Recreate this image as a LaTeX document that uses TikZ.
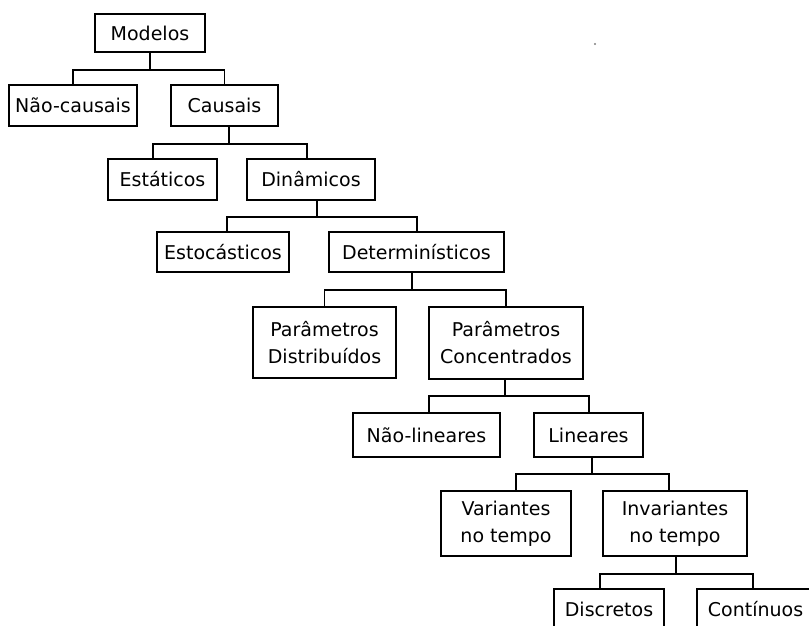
\documentclass[tikz,border=0pt]{standalone}
\usepackage{fontspec}
\setmainfont{DejaVu Sans}
\begin{document}
\begin{tikzpicture}[x=1pt,y=-1pt,
  box/.style={draw=black, line width=1.5pt, inner sep=0pt, align=center,
    font=\fontsize{19}{27}\selectfont},
  link/.style={draw=black, line width=1.5pt}]
\clip (0,0) rectangle (809,625);
\fill[white] (0,0) rectangle (809,625);
\node[box, minimum width=110, minimum height=38] (mod) at (150,33) {Modelos};
\node[box, minimum width=128, minimum height=41] (nc) at (73,105.5) {Não-causais};
\node[box, minimum width=107, minimum height=41] (cau) at (224.5,105.5) {Causais};
\node[box, minimum width=109, minimum height=41] (est) at (162.5,179.5) {Estáticos};
\node[box, minimum width=128, minimum height=41] (din) at (311,179.5) {Dinâmicos};
\node[box, minimum width=132, minimum height=40] (sto) at (223,252) {Estocásticos};
\node[box, minimum width=175, minimum height=40] (det) at (416.5,252) {Determinísticos};
\node[box, minimum width=143, minimum height=71] (pd) at (324.5,342.5) {Parâmetros\\Distribuídos};
\node[box, minimum width=154, minimum height=72] (pc) at (506,343) {Parâmetros\\Concentrados};
\node[box, minimum width=147, minimum height=44] (nl) at (426.5,435) {Não-lineares};
\node[box, minimum width=109, minimum height=44] (lin) at (588.5,435) {Lineares};
\node[box, minimum width=130, minimum height=65] (var) at (506,523.5) {Variantes\\no tempo};
\node[box, minimum width=144, minimum height=65] (inv) at (675,523.5) {Invariantes\\no tempo};
\node[box, minimum width=110, minimum height=41] (dis) at (609,609.5) {Discretos};
\node[box, minimum width=117, minimum height=41] (con) at (755.5,609.5) {Contínuos};
% connectors
\draw[link] (mod.south) -- ++(0,17) -| (nc.north);
\draw[link] (mod.south) -- ++(0,17) -| (cau.north);
\draw[link] ([xshift=4.5]cau.south) -- ++(0,17) -| ([xshift=-9.5]est.north);
\draw[link] ([xshift=4.5]cau.south) -- ++(0,17) -| ([xshift=-4]din.north);
\draw[link] ([xshift=6]din.south) -- ++(0,16) -| ([xshift=4]sto.north);
\draw[link] ([xshift=6]din.south) -- ++(0,16) -| ([xshift=0.5]det.north);
\draw[link] ([xshift=-4.5]det.south) -- ++(0,17) -| (pd.north);
\draw[link] ([xshift=-4.5]det.south) -- ++(0,17) -| (pc.north);
\draw[link] ([xshift=-1]pc.south) -- ++(0,16) -| ([xshift=2.5]nl.north);
\draw[link] ([xshift=-1]pc.south) -- ++(0,16) -| ([xshift=0.5]lin.north);
\draw[link] ([xshift=3.5]lin.south) -- ++(0,16) -| ([xshift=10]var.north);
\draw[link] ([xshift=3.5]lin.south) -- ++(0,16) -| ([xshift=-6]inv.north);
\draw[link] ([xshift=1]inv.south) -- ++(0,17) -| ([xshift=-9]dis.north);
\draw[link] ([xshift=1]inv.south) -- ++(0,17) -| ([xshift=-2.5]con.north);
% stray dot
\fill[gray] (595,44) circle (1.2);
\end{tikzpicture}
\end{document}
